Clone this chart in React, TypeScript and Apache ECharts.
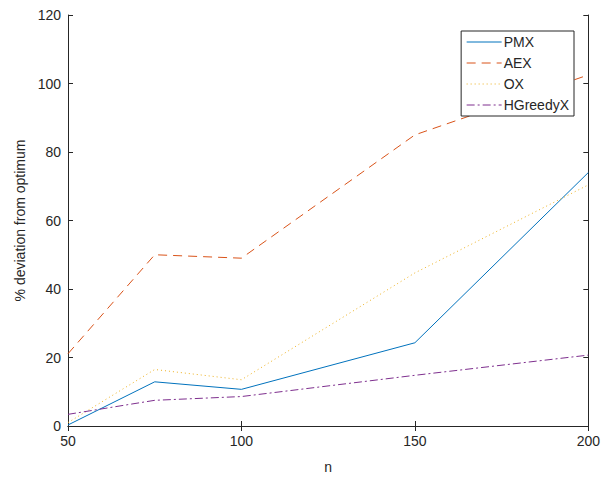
import React, { useEffect, useRef } from "react";
import * as echarts from "echarts";

const nValues = [50, 75, 100, 150, 200];
const pmx = [0.3, 12.9, 10.7, 24.3, 74.0];
const aex = [21.1, 50.0, 49.0, 85.0, 102.5];
const ox = [1.0, 16.5, 13.5, 44.7, 70.4];
const hgreedyx = [3.4, 7.5, 8.6, 14.8, 20.7];
const xTicks = [50, 100, 150, 200];
const yTicks = [0, 20, 40, 60, 80, 100, 120];

const axisColor = "#262626";
const font = "Liberation Sans, Arial, sans-serif";

export default function App() {
  const ref = useRef<HTMLDivElement>(null);
  useEffect(() => {
    if (!ref.current) return;
    const chart = echarts.init(ref.current, undefined, { renderer: "svg" });
    const mk = (name: string, data: number[], color: string, type: any) => ({
      name,
      type: "line",
      data: nValues.map((n, i) => [n, data[i]]),
      showSymbol: false,
      symbol: "none",
      lineStyle: { color, width: 1, type },
      itemStyle: { color },
      xAxisIndex: 0,
      yAxisIndex: 0,
    });
    const commonAxisLine = { show: true, lineStyle: { color: axisColor, width: 1 } };
    chart.setOption({
      animation: false,
      backgroundColor: "#ffffff",
      grid: { left: 68, right: 13, top: 15, bottom: 54, containLabel: false },
      legend: {
        orient: "vertical",
        right: 29,
        top: 31,
        backgroundColor: "#ffffff",
        borderColor: axisColor,
        borderWidth: 1,
        padding: [4, 5, 4, 5],
        itemWidth: 35,
        itemHeight: 14,
        itemGap: 7,
        itemStyle: { opacity: 0, borderWidth: 0 },
        lineStyle: { width: 1 },
        textStyle: { fontFamily: font, fontSize: 14, color: axisColor, padding: [0, 0, 0, -3] },
        data: ["PMX", "AEX", "OX", "HGreedyX"],
      },
      xAxis: [
        {
          type: "value",
          min: xTicks[0],
          max: xTicks[xTicks.length - 1],
          interval: 50,
          name: "n",
          nameLocation: "middle",
          nameGap: 34,
          nameTextStyle: { fontFamily: font, fontSize: 14, color: axisColor },
          axisLine: commonAxisLine,
          axisTick: { show: true, inside: true, length: 5, lineStyle: { color: axisColor } },
          axisLabel: { fontFamily: font, fontSize: 14, color: axisColor, margin: 8 },
          splitLine: { show: false },
        },
        {
          type: "value",
          position: "top",
          min: xTicks[0],
          max: xTicks[xTicks.length - 1],
          interval: 50,
          axisLine: commonAxisLine,
          axisTick: { show: true, inside: true, length: 5, lineStyle: { color: axisColor } },
          axisLabel: { show: false },
          splitLine: { show: false },
        },
      ],
      yAxis: [
        {
          type: "value",
          min: yTicks[0],
          max: yTicks[yTicks.length - 1],
          interval: 20,
          name: "% deviation from optimum",
          nameLocation: "middle",
          nameGap: 34,
          nameTextStyle: { fontFamily: font, fontSize: 14, color: axisColor },
          axisLine: commonAxisLine,
          axisTick: { show: true, inside: true, length: 5, lineStyle: { color: axisColor } },
          axisLabel: { fontFamily: font, fontSize: 14, color: axisColor, margin: 7 },
          splitLine: { show: false },
        },
        {
          type: "value",
          position: "right",
          min: yTicks[0],
          max: yTicks[yTicks.length - 1],
          interval: 20,
          axisLine: commonAxisLine,
          axisTick: { show: true, inside: true, length: 5, lineStyle: { color: axisColor } },
          axisLabel: { show: false },
          splitLine: { show: false },
        },
      ],
      series: [
        mk("PMX", pmx, "#0072BD", "solid"),
        mk("AEX", aex, "#D95319", [9, 6]),
        mk("OX", ox, "#EDB120", [1, 3]),
        mk("HGreedyX", hgreedyx, "#7E2F8E", [8, 3, 2, 3]),
      ],
    });
    return () => chart.dispose();
  }, []);
  return <div ref={ref} style={{ width: 603, height: 480, position: "absolute", left: 0, top: 0 }} />;
}
